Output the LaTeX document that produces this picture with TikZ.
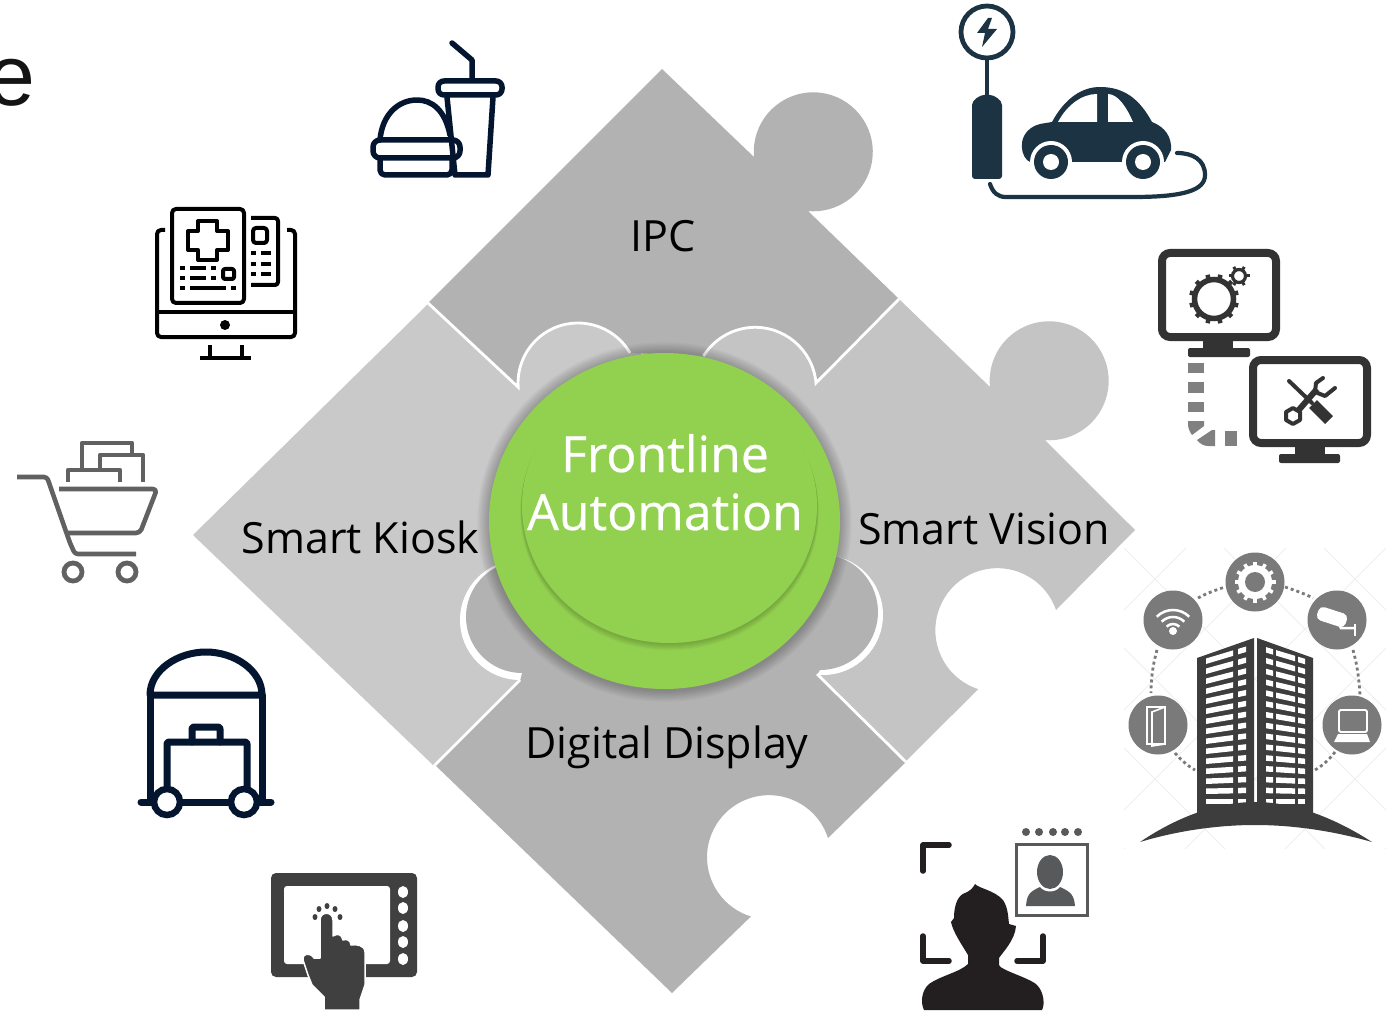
\documentclass[tikz,border=0pt]{standalone}
\usepackage{fontspec}
\setmainfont{Open Sans}
\newfontfamily\arialfont{Liberation Sans}
\newfontfamily\herofont{Open Sans}[FakeBold=0.5]
\definecolor{pieceA}{HTML}{B2B2B2}
\definecolor{pieceL}{HTML}{C9C9C9}
\definecolor{pieceR}{HTML}{C4C4C4}
\definecolor{leaf}{HTML}{92D050}
\definecolor{navy}{HTML}{03152F}
\definecolor{slateblue}{HTML}{1B3342}
\definecolor{mon}{HTML}{333333}
\definecolor{dashgray}{HTML}{808080}
\definecolor{cartgray}{HTML}{616161}
\definecolor{tabgray}{HTML}{404040}
\definecolor{facedark}{HTML}{231F20}
\definecolor{cardgray}{HTML}{58595B}
\definecolor{ringgray}{HTML}{7A7A7A}
\definecolor{bldg}{HTML}{3D3D3D}
\definecolor{wm}{HTML}{EFEFEF}
\tikzset{
  seam/.style={draw=white,line width=2.8pt,line join=miter},
  labelnode/.style={anchor=base,inner sep=0pt,font=\fontsize{43}{50}\selectfont,text=black},
  heroline/.style={anchor=base,inner sep=0pt,font=\herofont\fontsize{50}{60}\selectfont,text=white},
  foodline/.style={draw=navy,line width=5.5pt,line join=round,line cap=round,fill=none},
  medline/.style={draw=black,line width=4pt,line join=round,fill=none},
  bagline/.style={draw=navy,line width=7pt,line join=round,line cap=round,fill=none},
  cartline/.style={draw=cartgray,line width=4.6pt,line join=round,fill=none},
  moncase/.style={draw=mon,line width=8pt,rounded corners=8pt,fill=none},
  corner/.style={draw=facedark,line width=5.5pt,line cap=round,line join=round,fill=none},
  dotlink/.style={draw=ringgray,line width=2.8pt,dash pattern=on 3pt off 3pt,fill=none},
  ringdisc/.style={fill=ringgray},
}
\begin{document}
\begin{tikzpicture}[x=1pt,y=-1pt]
\useasboundingbox (0,0) rectangle (1393,1011);
\fill[white] (0,0) rectangle (1393,1011);

% clipped word end
\begin{scope}
\clip (0,0) rectangle (1393,1011);
\node[anchor=base west,inner sep=0pt,font=\arialfont\fontsize{86}{100}\selectfont,text=black!92] (clipword) at (-13,105.5) {e};
\end{scope}

% ---------- puzzle pieces
\fill[pieceL] (428,304) -- (577,315) -- (640,345) -- (660,520) -- (519,681) -- (433,765) -- (193,535) -- cycle;
\fill[pieceR] (900,300) -- (990,387) arc (174:454:59.5) -- (1135,530) -- (1056,610) arc (-19:-252:62) -- (905,762) -- (817,675) -- (660,520) -- (680,345) -- (755,320) -- cycle;
% top piece
\fill[pieceA] (662,69) -- (754,157) arc (175:455:59.5) -- (899,299) -- (816,383) arc (-5:-148:61) -- (630,353) arc (-30:-184:60) -- (428,303) -- cycle;
\draw[seam] (899,299) -- (816,383) arc (-5:-148:61);
\draw[seam] (630,353) arc (-30:-184:60) -- (428,303);
% bottom piece, its knobs on white crescents
\fill[white] (520,620) circle (60);
\fill[white] (823,615) circle (60);
\fill[pieceA] (435,765) -- (520,681) -- (522,673) arc (90:243:56) -- (660,520) -- (835,556) arc (-75:90:58) -- (817,675) -- (906,762) -- (828,838) arc (-18:-253:62) -- (672,993) -- cycle;
\draw[seam] (435,765) -- (520,680);
\draw[seam] (817,674) -- (906,762);

% ---------- central disc
\foreach \k in {1,...,9}{
  \fill[black,opacity=.026] (664.5,522) ellipse ({175.5+\k*1.3} and {168+\k*1.3});
}
\fill[leaf] (664.5,521) ellipse (175.5 and 168);
\foreach \k in {1,...,7}{
  \fill[black,opacity=.028] (669.5,{506+\k*.8}) ellipse ({147.5+\k*.25} and {137+\k*.25});
}
\fill[leaf] (669.5,506) ellipse (147.5 and 137);

\node[heroline] (hero1) at (665,472) {Frontline};
\node[heroline] (hero2) at (665,530) {Automation};
\node[labelnode] (ipc) at (663,252) {IPC};
\node[labelnode] (kiosk) at (360.5,553) {Smart Kiosk};
\node[labelnode] (vision) at (984,544) {Smart Vision};
\node[labelnode] (display) at (667,758) {Digital Display};

% ---------- food
\draw[foodline] (452,43) -- (472,60) -- (472,80);
\draw[foodline,rounded corners=6pt] (438,81) rectangle (502,95);
\draw[foodline] (447,97) -- (455,175) -- (488,175) -- (493,97);
\draw[foodline] (380,140) .. controls (382,115) and (398,100) .. (417,100) .. controls (432,100) and (445,110) .. (450,135);
\draw[foodline,rounded corners=7pt] (373,140) rectangle (460,158);
\draw[foodline,rounded corners=5pt] (380,160) -- (380,175) -- (452,175) -- (452,160);

% ---------- medical monitor
\draw[medline,rounded corners=4pt] (165,230) -- (157,230) -- (157,337) -- (295,337) -- (295,230) -- (287,230);
\draw[medline] (157,312) -- (295,312);
\fill[black] (225,325) circle (5);
\draw[medline] (210,345) -- (210,358) (242,345) -- (242,358) (200,358) -- (251,358);
\draw[medline,rounded corners=4pt] (172,209) rectangle (244,303);
\draw[medline] (198,221) -- (217,221) -- (217,231) -- (228,231) -- (228,250) -- (217,250) -- (217,260) -- (198,260) -- (198,250) -- (188,250) -- (188,231) -- (198,231) -- cycle;
\draw[medline,rounded corners=3pt] (251,218) -- (278,218) -- (278,285) -- (251,285);
\draw[medline,rounded corners=3pt] (253,228) rectangle (267,243);
\draw[medline,rounded corners=2pt] (223,269) rectangle (234,279);
\foreach \ya/\xa/\xb/\xc/\xd in {268/180/185/190/206, 278/180/185/190/206}{
  \draw[black,line width=4pt] (\xa,\ya) -- (\xb,\ya) (\xc,\ya) -- (\xd,\ya) (211,\ya) -- (216,\ya);
}
\draw[black,line width=4pt] (180,288) -- (185,288) (190,288) -- (226,288) (231,288) -- (236,288);
\foreach \ya in {253,264,274}{
  \draw[black,line width=4pt] (251,\ya) -- (256,\ya) (261,\ya) -- (271,\ya);
}

% ---------- charging car
\draw[slateblue,line width=4.8pt] (987,32) circle (26);
\fill[slateblue] (988,18) -- (977,33) -- (985,33) -- (982,47) -- (997,29) -- (988,29) -- (992,18) -- cycle;
\draw[slateblue,line width=3.5pt] (987,58) -- (987,97);
\fill[slateblue,rounded corners=3pt] (972,179) -- (972,108) .. controls (972,100) and (980,95) .. (987,95) .. controls (994,95) and (1002,100) .. (1002,108) -- (1002,179) -- cycle;
\draw[slateblue,line width=4.2pt,line cap=round] (990,184) .. controls (993,193) and (998,197) .. (1006,197) -- (1133,197) .. controls (1185,197) and (1205,190) .. (1205,175) .. controls (1205,160) and (1193,153) .. (1177,153);
\fill[slateblue] (1027,160) .. controls (1019,152) and (1018,130) .. (1040,124) -- (1052,122) .. controls (1065,98) and (1082,87) .. (1100,87) .. controls (1125,87) and (1140,100) .. (1152,122) .. controls (1165,127) and (1172,137) .. (1171,150) -- (1165,162) -- (1030,162) -- cycle;
\foreach \xa in {1051,1143}{
  \fill[white] (\xa,162) circle (21);
  \fill[slateblue] (\xa,162) circle (17);
  \fill[white] (\xa,162) circle (8);
}
\fill[white] (1058,122) -- (1097,122) -- (1097,94) .. controls (1082,94) and (1067,105) .. (1058,122) -- cycle;
\fill[white] (1108,122) -- (1108,94) .. controls (1118,94) and (1127,108) .. (1133,122) -- cycle;

% ---------- two monitors
\draw[moncase] (1162,253) rectangle (1276,337);
\fill[mon] (1203,341) rectangle (1233,349);
\fill[mon,rounded corners=2pt] (1188,357) -- (1188,348) -- (1250,348) -- (1250,357) -- cycle;
\draw[moncase] (1253,360) rectangle (1367,443);
\fill[mon] (1295,447) rectangle (1325,455);
\fill[mon,rounded corners=2pt] (1279,463) -- (1279,454) -- (1340,454) -- (1340,463) -- cycle;
\draw[mon,line width=5.5pt] (1214,299) circle (19.5);
\foreach \a in {15,45,...,345}{
  \draw[mon,line width=4.5pt,shift={(1214,299)}] (\a:20) -- (\a:25);
}
\draw[mon,line width=3.2pt] (1239,276) circle (6.5);
\foreach \a in {0,60,...,300}{
  \draw[mon,line width=3pt,shift={(1239,276)}] (\a:7) -- (\a:10.5);
}
% dashed link
\fill[dashgray] (1188,363) rectangle (1204,373);
\fill[dashgray] (1188,382) rectangle (1204,393);
\fill[dashgray] (1188,402) rectangle (1204,412);
\fill[dashgray] (1188,421) -- (1204,421) -- (1204,426) -- (1192,435) .. controls (1189,431) and (1188,427) .. (1188,424) -- cycle;
\fill[dashgray] (1197,440) -- (1212,430) -- (1215,430) -- (1215,446) -- (1208,446) .. controls (1204,446) and (1200,444) .. (1197,440) -- cycle;
\fill[dashgray] (1225,431) rectangle (1237,446);
% tools
\draw[mon,line width=4pt,line cap=round] (1289,381) -- (1312,403);
\draw[mon,line width=11pt] (1313,404) -- (1329,420);
\draw[mon,line width=6pt] (1297,412) -- (1317,389);
\draw[mon,line width=4pt,line join=round,line cap=round] (1323,378) -- (1316,383) -- (1315,392) -- (1325,396) -- (1335,388);
\draw[mon,line width=4pt,line join=round] (1293,408) -- (1300,412) -- (1300,420) -- (1293,424) -- (1286,420) -- (1286,412) -- cycle;

% ---------- building picture
\begin{scope}
\clip (1124,548) rectangle (1386,848);
\foreach \o in {-2,-1,0,1,2,3}{
  \draw[wm,line width=1pt] (1124,{548+\o*100}) -- (1386,{548+\o*100+262});
  \draw[wm,line width=1pt] (1386,{548+\o*100}) -- (1124,{548+\o*100+262});
}
\end{scope}
\draw[dotlink] (1198,598) .. controls (1207,593) and (1216,590) .. (1225,587);
\draw[dotlink] (1285,587) .. controls (1294,590) and (1303,593) .. (1313,598);
\draw[dotlink] (1157,650) .. controls (1153,664) and (1151,678) .. (1151,693);
\draw[dotlink] (1353,650) .. controls (1357,664) and (1359,678) .. (1360,695);
\draw[dotlink] (1175,753) .. controls (1181,760) and (1188,766) .. (1195,770);
\draw[dotlink] (1335,752) .. controls (1329,760) and (1322,766) .. (1315,770);
\foreach \xa/\ya in {1255/582,1173/620,1337/620,1158/725,1352/725}{
  \fill[ringdisc] (\xa,\ya) circle (29.5);
}
% gear
\fill[white] (1255,582) circle (17);
\foreach \a in {0,30,...,330}{
  \draw[white,line width=3.5pt,shift={(1255,582)}] (\a:16) -- (\a:20.5);
}
\fill[ringgray] (1255,582) circle (10);
% wifi
\fill[white] (1173,631) circle (4);
\foreach \r in {9,16,23}{
  \draw[white,line width=2.5pt] (1173,633) ++(-135:\r) arc (-135:-45:\r);
}
% camera
\fill[white,rounded corners=5pt,rotate around={-18:(1332,617)}] (1317,610) rectangle (1347,624);
\draw[white,line width=2.5pt] (1339,624) -- (1341,628) -- (1355,628);
\draw[white,line width=2.5pt] (1355,624) -- (1355,636);
% door
\draw[white,line width=1.6pt] (1147,707) -- (1165,707) -- (1165,744) -- (1147,744) -- cycle;
\draw[white,line width=1.6pt] (1152,712) -- (1165,707) -- (1165,744) -- (1152,746) -- cycle;
% laptop
\draw[white,line width=1.8pt,rounded corners=1.5pt] (1339,710) rectangle (1367,732);
\fill[white] (1334,742) -- (1338,734) -- (1367,734) -- (1370,742) -- cycle;
% tower
\fill[bldg] (1197,658) -- (1254,638) -- (1254,815) -- (1197,815) -- cycle;
\fill[bldg] (1257,638) -- (1313,658) -- (1313,815) -- (1257,815) -- cycle;
\foreach \i in {0,...,14}{
  \pgfmathsetmacro\ya{658.5+\i*10}
  \pgfmathsetmacro\s{-.3*(1-\i/14)}
  \foreach \xa/\xb in {1206/1233,1238/1246}{
    \fill[white] (\xa,{\ya+\s*(\xa-1206)}) -- (\xb,{\ya+\s*(\xb-1206)}) -- (\xb,{\ya+5.5+\s*(\xb-1206)}) -- (\xa,{\ya+5.5+\s*(\xa-1206)}) -- cycle;
  }
  \foreach \xa/\xb in {1266/1273,1276/1295,1298/1305}{
    \fill[white] (\xa,{\ya+\s*(2510-\xa-1206)}) -- (\xb,{\ya+\s*(2510-\xb-1206)}) -- (\xb,{\ya+5.5+\s*(2510-\xb-1206)}) -- (\xa,{\ya+5.5+\s*(2510-\xa-1206)}) -- cycle;
  }
}
\fill[bldg] (1140,842) .. controls (1180,815) and (1220,802) .. (1255,802) .. controls (1290,802) and (1330,815) .. (1372,842) .. controls (1330,830) and (1290,825) .. (1255,825) .. controls (1220,825) and (1180,830) .. (1140,842) -- cycle;

% ---------- cart
\draw[cartline,line cap=butt,rounded corners=3pt] (17,477) -- (47,477) -- (70,543) -- (75,554) -- (136,554);
\draw[cartline,rounded corners=4pt] (59,489) -- (157,489) -- (140,533) -- (68,533);
\draw[cartline] (68,482) -- (68,470) -- (82,470) -- (82,443) -- (132,443) -- (132,453);
\draw[cartline] (120,482) -- (120,470) -- (68,470);
\draw[cartline] (100,470) -- (100,455) -- (143,455) -- (143,482);
\draw[cartgray,line width=4.8pt] (73,572) circle (9);
\draw[cartgray,line width=4.8pt] (127,572) circle (9);

% ---------- luggage robot
\draw[bagline] (150,695) -- (150,802);
\draw[bagline] (262,695) -- (262,802);
\draw[bagline] (150,695) .. controls (150,670) and (178,652) .. (206,652) .. controls (234,652) and (262,670) .. (262,695) -- cycle;
\draw[bagline] (141,802) -- (271,802);
\draw[bagline,rounded corners=2pt] (167,792) -- (167,742) -- (247,742) -- (247,792);
\draw[bagline,rounded corners=2pt] (192,742) -- (192,727) -- (220,727) -- (220,742);
\foreach \xa in {167,244}{
  \fill[white] (\xa,802) circle (14);
  \draw[navy,line width=6.5pt] (\xa,802) circle (13);
}

% ---------- touch panel
\fill[tabgray,rounded corners=5pt] (271,873) rectangle (417,977);
\fill[white,rounded corners=3pt] (284,886) rectangle (390,964);
\foreach \ya in {892,908,926,942,959}{
  \fill[white] (403,\ya) ellipse (5 and 6);
}
\foreach \xa/\ya in {327/906,319/909,335/909,315/917,340/917}{
  \fill[tabgray] (\xa,\ya) ellipse (2.5 and 3);
}
\fill[tabgray,draw=white,line width=1.5pt,line join=round] (320,958) -- (320,920) .. controls (320,911) and (333,911) .. (333,920) -- (333,936) .. controls (337,933) and (342,934) .. (343,940) .. controls (347,938) and (351,941) .. (351,945) .. controls (356,944) and (365,945) .. (365,952) -- (365,985) -- (360,1000) -- (360,1010) -- (324,1010) -- (324,997) -- (312,985) -- (308,975) -- (303,960) .. controls (302,953) and (310,952) .. (314,958) -- cycle;

% ---------- face recognition
\draw[corner] (923,871) -- (923,845) -- (949,845);
\draw[corner] (923,936) -- (923,961) -- (949,961);
\draw[corner] (1043,936) -- (1043,961) -- (1017,961);
\fill[facedark] (975,884) .. controls (980,889) and (994,890) .. (1003,900) .. controls (1008,908) and (1008,915) .. (1009,924) -- (1016,926) .. controls (1015,940) and (1003,952) .. (999,958) -- (999,965) .. controls (1000,970) and (1030,978) .. (1037,985) .. controls (1044,992) and (1045,1005) .. (1042,1010) -- (924,1010) .. controls (920,1002) and (922,990) .. (929,984) .. controls (940,976) and (960,972) .. (968,964) -- (968,955) .. controls (962,945) and (953,932) .. (951,922) -- (954,918) .. controls (954,905) and (958,895) .. (965,893) .. controls (970,891) and (973,888) .. (975,884) -- cycle;
\fill[white] (1015,843) rectangle (1088,916);
\draw[cardgray,line width=3pt] (1016,844) rectangle (1087,915);
\fill[cardgray] (1050,872) ellipse (13 and 17);
\fill[cardgray] (1026,906) .. controls (1027,895) and (1029,892) .. (1040,887) .. controls (1044,893) and (1056,893) .. (1060,887) .. controls (1071,892) and (1074,895) .. (1075,906) -- cycle;
\foreach \xa in {1026,1039,1053,1065,1078}{
  \fill[cardgray] (\xa,832) circle (4);
}
\end{tikzpicture}
\end{document}
